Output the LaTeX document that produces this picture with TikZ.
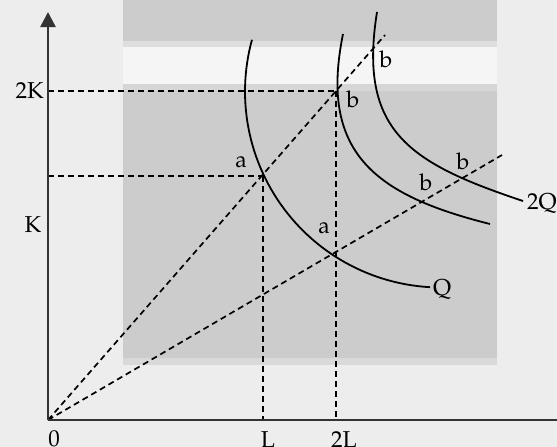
\documentclass[tikz,border=0pt]{standalone}
\usepackage{fontspec}
\setmainfont{TeX Gyre Pagella}
\usetikzlibrary{arrows.meta}
\begin{document}
\begin{tikzpicture}[x=1pt,y=-1pt,
  axis/.style={line width=2.4pt,draw=black!80},
  guide/.style={line width=1.7pt,dash pattern=on 6pt off 4pt},
  curve/.style={line width=1.8pt},
  lbl/.style={font=\fontsize{23}{27}\selectfont,inner sep=0pt}]
\useasboundingbox (0,0) rectangle (557,447);
% background
\fill[black!7] (0,0) rectangle (557,447);
\fill[black!20] (123,0) rectangle (497,41);
\fill[black!13] (123,41) rectangle (497,47);
\fill[black!4] (123,47) rectangle (497,84);
\fill[black!16] (123,84) rectangle (497,91);
\fill[black!20] (123,91) rectangle (497,358);
\fill[black!15] (123,358) rectangle (497,365);
% points
\coordinate (O) at (48,420);
\coordinate (ytip) at (48,12);
\coordinate (xend) at (557,420);
\coordinate (a1) at (263,176);
\coordinate (b1) at (336,91);
\coordinate (a2) at (336,254);
\coordinate (r1) at (385,35);
\coordinate (r2) at (502,155);
\coordinate (k2) at (48,91);
\coordinate (k1) at (48,176);
\coordinate (l1) at (263,420);
\coordinate (l2) at (336,420);
% guides
\draw[guide] (k2) -- (b1);
\draw[guide] (k1) -- (a1);
\draw[guide] (a1) -- (l1);
\draw[guide] (b1) -- (l2);
\draw[guide] (O) -- (r1);
\draw[guide] (O) -- (r2);
% curves
\draw[curve] plot[domain=195.3:93.2,samples=60] ({441+196*cos(\x)},{91.5+196*sin(\x)});
\draw[curve] (343,34) .. controls (319,152) and (374,195) .. (490,224);
\draw[curve] (377,12) .. controls (358,131) and (409,163) .. (523,201);
% axes
\draw[axis,-{Triangle[length=15pt,width=15pt]}] (O) -- (ytip);
\draw[axis] (O) -- (xend);
% labels
\node[lbl,anchor=east] (t2K) at (44,91) {2K};
\node[lbl] (tK) at (33,225) {K};
\node[lbl,anchor=north] (t0) at (54,430) {0};
\node[lbl,anchor=north] (tL) at (268,431) {L};
\node[lbl,anchor=north] (t2L) at (344,431) {2L};
\node[lbl,anchor=base west] (tQ) at (433,295) {Q};
\node[lbl,anchor=base west] (t2Q) at (527,209) {2Q};
\node[lbl] (la1) at (241,162) {a};
\node[lbl] (la2) at (324,228) {a};
\node[lbl] (lb1) at (353,99) {b};
\node[lbl] (lb2) at (386,59) {b};
\node[lbl] (lb3) at (426,182) {b};
\node[lbl] (lb4) at (463,161) {b};
\end{tikzpicture}
\end{document}
